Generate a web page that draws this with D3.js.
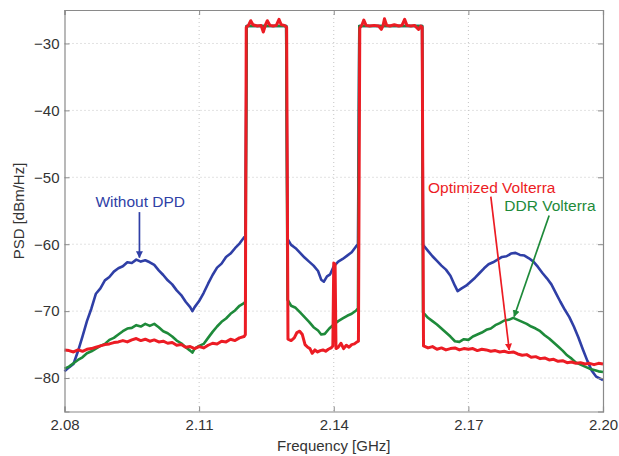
<!DOCTYPE html>
<html>
<head>
<meta charset="utf-8">
<script src="https://cdn.jsdelivr.net/npm/d3@7"></script>
<style>
  body { margin: 0; background: #fff; }
  text { font-family: "Liberation Sans", Arial, sans-serif; }
</style>
</head>
<body>
<div id="chart"></div>
<script>
// frequency ticks [GHz] and PSD ticks [dBm/Hz]
var xTicks = [2.08, 2.11, 2.14, 2.17, 2.20];
var xTickLabels = ["2.08", "2.11", "2.14", "2.17", "2.20"];
var yTicks = [-80, -70, -60, -50, -40, -30];

// Without DPD  [GHz, dBm/Hz]
var withoutDPD = [
  [2.0800,-79.0],[2.0810,-78.4],[2.0820,-77.9],[2.0830,-76.0],[2.0840,-73.8],[2.0850,-71.5],
  [2.0860,-69.6],[2.0870,-67.4],[2.0880,-66.6],[2.0890,-65.4],[2.0900,-64.9],[2.0910,-64.1],
  [2.0920,-63.6],[2.0930,-63.3],[2.0940,-62.7],[2.0950,-62.8],[2.0960,-62.3],[2.0970,-62.6],
  [2.0980,-62.4],[2.0990,-62.7],[2.1000,-63.1],[2.1010,-63.9],[2.1020,-64.6],[2.1030,-65.4],
  [2.1040,-66.0],[2.1050,-66.9],[2.1060,-67.6],[2.1070,-68.6],[2.1080,-69.4],[2.1085,-70.0],
  [2.1090,-69.4],[2.1100,-68.5],[2.1110,-67.3],[2.1120,-65.9],[2.1130,-64.6],[2.1140,-63.5],
  [2.1150,-62.9],[2.1160,-61.9],[2.1170,-61.4],[2.1180,-60.6],[2.1190,-59.9],[2.1200,-59.0],
  [2.1203,-58.8],[2.1206,-27.4],[2.1294,-27.4],
  [2.1297,-59.2],[2.1305,-60.1],[2.1315,-60.6],[2.1325,-61.3],[2.1335,-62.0],[2.1345,-62.6],
  [2.1355,-63.2],[2.1365,-64.0],[2.1372,-65.3],[2.1378,-65.6],[2.1385,-64.8],[2.1392,-64.5],
  [2.1400,-63.3],[2.1410,-62.6],[2.1420,-62.2],[2.1430,-61.7],[2.1440,-61.2],[2.1450,-60.3],
  [2.1454,-60.0],[2.1457,-27.4],[2.1597,-27.4],
  [2.1599,-60.1],[2.1610,-61.0],[2.1620,-61.8],[2.1630,-62.5],[2.1640,-63.2],[2.1650,-63.8],
  [2.1660,-64.7],[2.1670,-66.2],[2.1676,-67.0],[2.1685,-66.6],[2.1695,-66.2],[2.1705,-65.6],
  [2.1715,-65.0],[2.1725,-64.3],[2.1735,-63.6],[2.1745,-63.0],[2.1755,-62.7],[2.1765,-62.3],
  [2.1775,-61.9],[2.1785,-61.8],[2.1795,-61.4],[2.1805,-61.3],[2.1815,-61.6],[2.1825,-61.7],
  [2.1835,-62.1],[2.1845,-62.6],[2.1855,-63.4],[2.1865,-64.3],[2.1875,-65.1],[2.1885,-66.0],
  [2.1895,-67.3],[2.1905,-68.6],[2.1915,-69.8],[2.1925,-70.9],[2.1935,-72.3],[2.1945,-73.9],
  [2.1955,-75.7],[2.1965,-77.4],[2.1975,-78.9],[2.1985,-79.8],[2.2000,-80.3]
];

// DDR Volterra
var ddrVolterra = [
  [2.0800,-78.6],[2.0810,-78.3],[2.0820,-77.8],[2.0830,-77.3],[2.0840,-76.9],[2.0850,-76.3],
  [2.0860,-76.0],[2.0870,-75.6],[2.0880,-75.2],[2.0890,-74.9],[2.0900,-74.3],[2.0910,-74.0],
  [2.0920,-73.5],[2.0930,-73.0],[2.0940,-72.6],[2.0950,-72.5],[2.0960,-72.1],[2.0970,-72.3],
  [2.0980,-71.9],[2.0990,-72.2],[2.1000,-71.9],[2.1010,-72.4],[2.1020,-73.0],[2.1030,-73.3],
  [2.1040,-73.8],[2.1050,-74.4],[2.1060,-74.8],[2.1070,-75.4],[2.1080,-75.9],[2.1085,-76.2],
  [2.1090,-75.6],[2.1100,-75.2],[2.1110,-74.9],[2.1120,-74.0],[2.1130,-73.1],[2.1140,-72.3],
  [2.1150,-71.6],[2.1160,-71.1],[2.1170,-70.4],[2.1180,-69.9],[2.1190,-69.2],[2.1200,-68.8],
  [2.1203,-68.6],[2.1206,-27.4],[2.1294,-27.4],
  [2.1297,-68.3],[2.1305,-69.2],[2.1315,-69.5],[2.1325,-70.2],[2.1335,-70.9],[2.1345,-71.6],
  [2.1355,-72.4],[2.1365,-72.9],[2.1372,-73.5],[2.1380,-73.4],[2.1390,-72.6],[2.1400,-72.0],
  [2.1410,-71.5],[2.1420,-71.1],[2.1430,-70.7],[2.1440,-70.4],[2.1450,-69.9],[2.1454,-69.6],
  [2.1457,-27.4],[2.1597,-27.4],
  [2.1599,-70.2],[2.1610,-71.0],[2.1620,-71.5],[2.1630,-72.0],[2.1640,-72.6],[2.1650,-73.2],
  [2.1660,-73.8],[2.1670,-74.5],[2.1680,-74.6],[2.1690,-74.2],[2.1700,-74.3],[2.1710,-73.8],
  [2.1720,-73.5],[2.1730,-73.2],[2.1740,-72.8],[2.1750,-72.6],[2.1760,-72.1],[2.1770,-71.8],
  [2.1780,-71.4],[2.1790,-71.3],[2.1800,-71.0],[2.1810,-71.3],[2.1820,-71.6],[2.1830,-71.9],
  [2.1840,-72.3],[2.1850,-72.6],[2.1860,-73.0],[2.1870,-73.6],[2.1880,-74.1],[2.1890,-74.7],
  [2.1900,-75.3],[2.1910,-75.9],[2.1920,-76.6],[2.1930,-77.1],[2.1940,-77.7],[2.1950,-78.0],
  [2.1960,-78.3],[2.1970,-78.6],[2.1980,-78.8],[2.1990,-79.0],[2.2000,-79.1]
];

// Optimized Volterra
var optVolterra = [
  [2.0800,-75.8],[2.0810,-75.9],[2.0820,-76.1],[2.0830,-75.8],[2.0840,-76.0],[2.0850,-75.7],
  [2.0860,-75.6],[2.0870,-75.4],[2.0880,-75.2],[2.0890,-75.0],[2.0900,-74.9],[2.0910,-74.7],
  [2.0920,-74.6],[2.0930,-74.4],[2.0940,-74.6],[2.0950,-74.3],[2.0960,-74.1],[2.0970,-74.4],
  [2.0980,-74.2],[2.0990,-74.5],[2.1000,-74.3],[2.1010,-74.6],[2.1020,-74.5],[2.1030,-74.8],
  [2.1040,-74.7],[2.1050,-75.1],[2.1060,-75.0],[2.1070,-75.4],[2.1080,-75.3],[2.1090,-75.6],
  [2.1100,-75.3],[2.1110,-75.5],[2.1120,-75.1],[2.1130,-74.8],[2.1140,-74.9],[2.1150,-74.5],
  [2.1160,-74.6],[2.1170,-74.2],[2.1180,-74.4],[2.1190,-74.0],[2.1200,-73.8],[2.1203,-73.5],
  [2.1205,-27.6],[2.1210,-27.3],[2.1215,-26.6],[2.1220,-27.2],[2.1230,-27.4],[2.1238,-27.3],
  [2.1243,-28.3],[2.1248,-27.2],[2.1252,-26.6],[2.1258,-27.3],[2.1265,-27.4],[2.1272,-27.3],
  [2.1278,-26.4],[2.1283,-27.2],[2.1290,-27.3],[2.1295,-27.6],
  [2.1298,-74.2],[2.1305,-74.4],[2.1312,-74.0],[2.1318,-73.2],[2.1324,-73.0],[2.1330,-73.5],
  [2.1336,-75.0],[2.1342,-75.4],[2.1347,-75.6],[2.1352,-76.3],[2.1358,-75.8],[2.1364,-76.1],
  [2.1370,-75.9],[2.1376,-75.8],[2.1382,-76.0],[2.1388,-75.7],[2.1394,-75.5],[2.1398,-75.2],
  [2.1400,-62.8],[2.1403,-63.0],[2.1405,-75.6],[2.1410,-75.4],[2.1416,-74.8],[2.1422,-75.6],
  [2.1428,-75.1],[2.1434,-75.4],[2.1440,-75.0],[2.1446,-74.9],[2.1452,-74.6],[2.1455,-74.5],
  [2.1458,-27.7],[2.1463,-27.2],[2.1467,-26.5],[2.1472,-27.3],[2.1480,-27.4],[2.1490,-27.3],
  [2.1500,-27.4],[2.1506,-27.9],[2.1510,-27.3],[2.1513,-26.3],[2.1518,-27.3],[2.1525,-27.4],
  [2.1535,-27.2],[2.1545,-27.4],[2.1552,-27.3],[2.1558,-26.4],[2.1563,-27.3],[2.1572,-27.4],
  [2.1580,-27.3],[2.1589,-27.9],[2.1594,-27.4],[2.1597,-27.6],
  [2.1600,-75.2],[2.1610,-75.5],[2.1620,-75.3],[2.1630,-75.7],[2.1640,-75.5],[2.1650,-75.8],
  [2.1660,-75.6],[2.1670,-75.5],[2.1680,-75.8],[2.1690,-75.6],[2.1700,-75.7],[2.1710,-75.6],
  [2.1720,-75.9],[2.1730,-75.7],[2.1740,-75.8],[2.1750,-76.0],[2.1760,-75.9],[2.1770,-76.1],
  [2.1780,-76.0],[2.1790,-76.2],[2.1800,-76.1],[2.1810,-76.4],[2.1820,-76.6],[2.1830,-76.5],
  [2.1840,-76.9],[2.1850,-76.8],[2.1860,-77.1],[2.1870,-77.0],[2.1880,-77.3],[2.1890,-77.2],
  [2.1900,-77.5],[2.1910,-77.4],[2.1920,-77.7],[2.1930,-77.6],[2.1940,-77.8],[2.1950,-77.7],
  [2.1960,-77.9],[2.1970,-77.8],[2.1980,-78.0],[2.1990,-77.8],[2.2000,-77.9]
];

var series = [
  {name: "Without DPD", data: withoutDPD, color: "#2f3fa6", width: 2.6},
  {name: "DDR Volterra", data: ddrVolterra, color: "#1e8a3a", width: 2.6},
  {name: "Optimized Volterra", data: optVolterra, color: "#ec1c24", width: 3}
];

// annotation text position [GHz, dBm/Hz], arrow from -> to
var notes = [
  {text: "Without DPD", color: "#2f3fa6", at: [2.0869, -54.5], from: [2.0967, -55.2], to: [2.0967, -62.0]},
  {text: "Optimized Volterra", color: "#ec1c24", at: [2.1610, -52.3], from: [2.1750, -52.9], to: [2.1791, -75.8]},
  {text: "DDR Volterra", color: "#1e8a3a", at: [2.1780, -55.1], from: [2.1880, -55.7], to: [2.1802, -70.8]}
];

var W = 619, H = 456;
var margin = {top: 10, right: 16, bottom: 44.5, left: 64.5};
var width = W - margin.left - margin.right;
var height = H - margin.top - margin.bottom;

var x = d3.scaleLinear().domain([2.08, 2.20]).range([0, width]);
var y = d3.scaleLinear().domain([-85, -25]).range([height, 0]);

var svg = d3.select("#chart").append("svg")
  .attr("width", W).attr("height", H)
  .style("background", "#fff");

var defs = svg.append("defs");
notes.forEach(function(n, i) {
  defs.append("marker")
    .attr("id", "ah" + i)
    .attr("viewBox", "0 0 10 10")
    .attr("refX", 9).attr("refY", 5)
    .attr("markerWidth", 7).attr("markerHeight", 8)
    .attr("markerUnits", "userSpaceOnUse")
    .attr("orient", "auto")
    .append("path")
    .attr("d", "M0,0 L10,5 L0,10 Z")
    .style("fill", n.color);
});

var g = svg.append("g")
  .attr("transform", "translate(" + margin.left + "," + margin.top + ")");

// dotted grid
g.selectAll(".vgrid").data(xTicks.slice(1, -1)).enter()
  .append("line")
  .attr("x1", function(d) { return x(d); }).attr("x2", function(d) { return x(d); })
  .attr("y1", 0).attr("y2", height)
  .style("stroke", "#c4c4c4").style("stroke-dasharray", "1,3");
g.selectAll(".hgrid").data(yTicks).enter()
  .append("line")
  .attr("x1", 0).attr("x2", width)
  .attr("y1", function(d) { return y(d); }).attr("y2", function(d) { return y(d); })
  .style("stroke", "#c4c4c4").style("stroke-dasharray", "1,3");

var line = d3.line()
  .x(function(d) { return x(d[0]); })
  .y(function(d) { return y(d[1]); });

g.selectAll(".psd").data(series).enter()
  .append("path")
  .attr("class", "psd")
  .attr("d", function(d) { return line(d.data); })
  .style("fill", "none")
  .style("stroke", function(d) { return d.color; })
  .style("stroke-width", function(d) { return d.width; })
  .style("stroke-linejoin", "round");

// axes box with inward ticks
var axisColor = "#8a8a8a";
var xAxisB = d3.axisBottom(x).tickValues(xTicks).tickSize(-5).tickPadding(8)
  .tickFormat(function(d, i) { return xTickLabels[i]; });
var xAxisT = d3.axisTop(x).tickValues(xTicks).tickSize(-5).tickFormat("");
var yAxisL = d3.axisLeft(y).tickValues(yTicks).tickSize(-5).tickPadding(5)
  .tickFormat(function(d) { return "\u2212" + Math.abs(d); });
var yAxisR = d3.axisRight(y).tickValues(yTicks).tickSize(-5).tickFormat("");

g.append("g").attr("transform", "translate(0," + height + ")").call(xAxisB);
g.append("g").call(xAxisT);
g.append("g").call(yAxisL);
g.append("g").attr("transform", "translate(" + width + ",0)").call(yAxisR);

g.selectAll(".domain").style("stroke", axisColor).style("stroke-width", 1.2);
g.selectAll(".tick line").style("stroke", axisColor);
g.selectAll(".tick text")
  .style("font-size", "15px").style("fill", "#333")
  .style("font-family", "'Liberation Sans', Arial, sans-serif");

// axis labels
svg.append("text")
  .attr("x", margin.left + width / 2).attr("y", 451)
  .attr("text-anchor", "middle")
  .style("font-size", "15px").style("fill", "#333")
  .text("Frequency [GHz]");
svg.append("text")
  .attr("transform", "translate(24,211) rotate(-90)")
  .attr("text-anchor", "middle")
  .style("font-size", "15px").style("fill", "#333")
  .text("PSD [dBm/Hz]");

// annotations
notes.forEach(function(n, i) {
  g.append("line")
    .attr("x1", x(n.from[0])).attr("y1", y(n.from[1]))
    .attr("x2", x(n.to[0])).attr("y2", y(n.to[1]))
    .style("stroke", n.color).style("stroke-width", 1.7)
    .attr("marker-end", "url(#ah" + i + ")");
  g.append("text")
    .attr("x", x(n.at[0])).attr("y", y(n.at[1]))
    .style("font-size", "15.5px").style("fill", n.color)
    .text(n.text);
});
</script>
</body>
</html>
